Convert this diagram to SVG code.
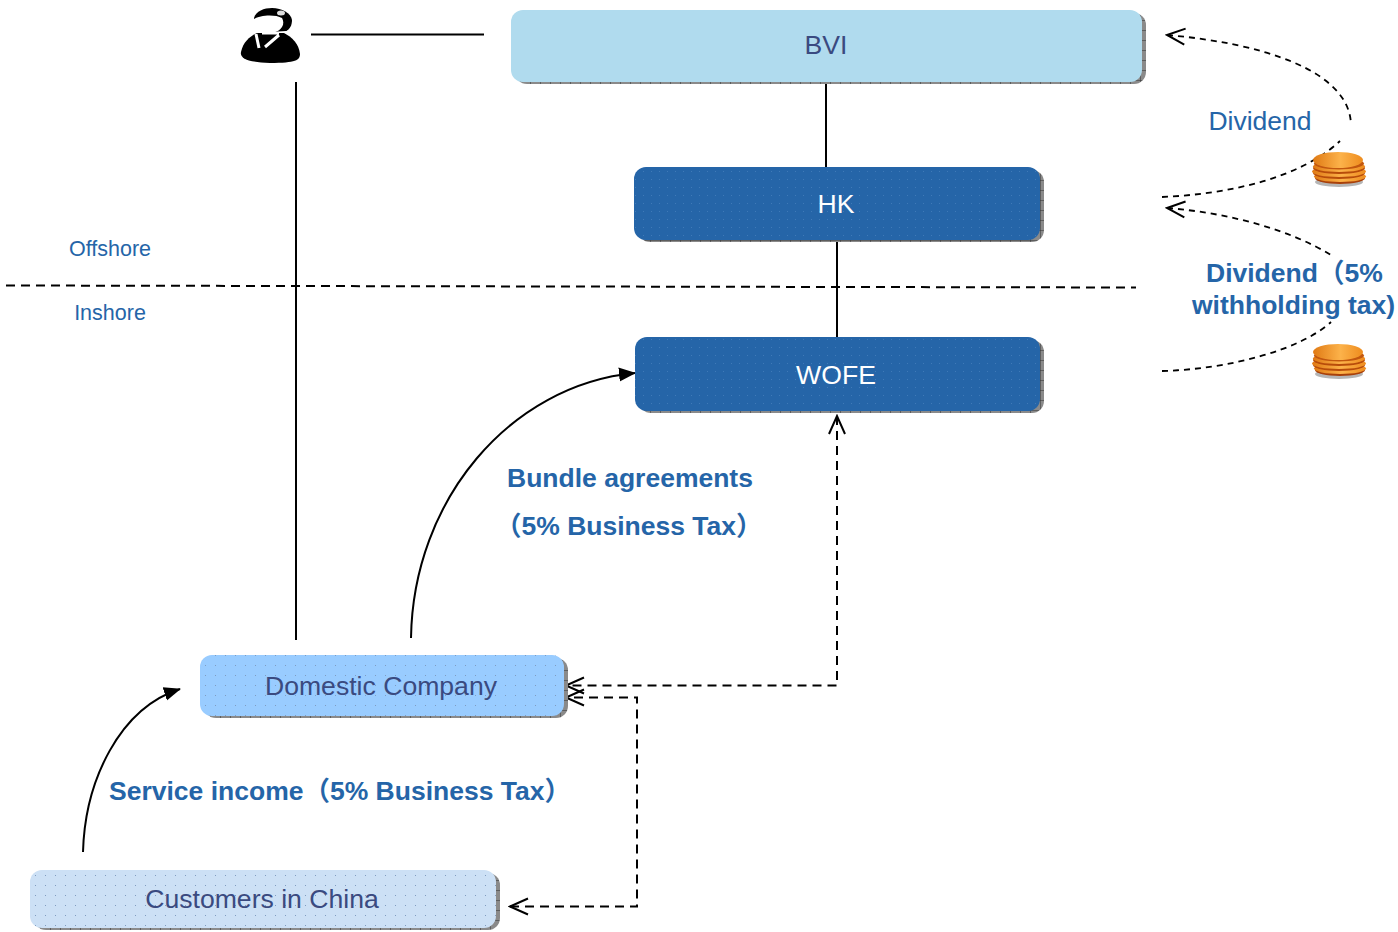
<svg xmlns="http://www.w3.org/2000/svg" width="1398" height="932" viewBox="0 0 1398 932">
<style>
text{font-family:"Liberation Sans",Arial,"Noto Sans CJK SC",sans-serif}
.l{font-size:26.600px;fill:#3a4a80;text-anchor:middle}
.w{font-size:26.600px;fill:#fff;text-anchor:middle}
.b{font-size:26.500px;font-weight:bold;fill:#2565a8}
.r{font-size:26.500px;fill:#2565a8}
.s{font-size:21.500px;fill:#2565a8;text-anchor:middle}
.c{fill:none;stroke:#000;stroke-width:2}
.d{stroke-dasharray:9 6}
.f{stroke-dasharray:6 5;stroke-width:1.800}
.sh{fill:url(#hatch)}
</style>
<defs>
<pattern id="hatch" width="10" height="10" patternUnits="userSpaceOnUse"><rect width="10" height="10" fill="#8a8a8a"/><path d="M0 0H10M0 0V10" stroke="#333" stroke-width="1"/></pattern>
<pattern id="dots" width="10" height="10" patternUnits="userSpaceOnUse"><rect x="5" y="5" width="1" height="1" fill="#7f9cc0"/></pattern>
<pattern id="dotsd" width="8" height="8" patternUnits="userSpaceOnUse"><rect x="3" y="3" width="1" height="1" fill="#3f7ab8"/></pattern>
<marker id="open" markerWidth="22" markerHeight="20" refX="20" refY="9" orient="auto-start-reverse" markerUnits="userSpaceOnUse" viewBox="0 0 22 18"><path d="M2 1L20 9L2 17" fill="none" stroke="#000" stroke-width="2"/></marker>
<marker id="solid" markerWidth="18" markerHeight="16" refX="16" refY="7" orient="auto" markerUnits="userSpaceOnUse" viewBox="0 0 18 14"><path d="M0 0L17 7L0 14Z" fill="#000"/></marker>
<linearGradient id="coin" x1="0" x2="1" y1="0" y2="0"><stop offset="0" stop-color="#e07a14"/><stop offset=".55" stop-color="#fcb24a"/><stop offset="1" stop-color="#ee8c1e"/></linearGradient>
<g id="coins">
<ellipse cx="27" cy="31" rx="24" ry="5" fill="#b5b5b5"/>
<ellipse cx="28" cy="27" rx="25" ry="6" fill="#a8400a"/>
<ellipse cx="28" cy="25.500" rx="26" ry="5.500" fill="url(#coin)"/>
<ellipse cx="27" cy="22" rx="26" ry="6" fill="#b84c0a"/>
<ellipse cx="27" cy="20.500" rx="27" ry="5.500" fill="url(#coin)"/>
<ellipse cx="27" cy="17" rx="26" ry="6" fill="#b84c0a"/>
<ellipse cx="27" cy="15.500" rx="26" ry="5.500" fill="url(#coin)"/>
<ellipse cx="27" cy="12.500" rx="25" ry="6" fill="#c2570f"/>
<ellipse cx="26" cy="9" rx="25" ry="8" fill="url(#coin)"/>
</g>
</defs>
<rect width="1398" height="932" fill="#fff"/>

<g id="connectors">
<path class="c" d="M311 34.500H484"/>
<path class="c" d="M296 82V640"/>
<path class="c" d="M826 83V167"/>
<path class="c" d="M837 241V337"/>
<path class="c d" d="M6 285.500L1136 287.500"/>
<path class="c" d="M411 638C413 500 510 385 635 373" marker-end="url(#solid)"/>
<path class="c" d="M83 852C85 780 120 708 180 689" marker-end="url(#solid)"/>
<path class="c d" d="M837 416V685.500H566" marker-start="url(#open)" marker-end="url(#open)"/>
<path class="c d" d="M510 906.500H637V697.500H566" marker-start="url(#open)" marker-end="url(#open)"/>
<path class="c f" d="M1167 35C1260 43 1350 70 1351 125" marker-start="url(#open)"/>
<path class="c f" d="M1162 197C1230 194 1300 178 1340 141"/>
<path class="c f" d="M1167 208C1230 213 1290 230 1331 255" marker-start="url(#open)"/>
<path class="c f" d="M1162 371C1230 369 1300 350 1331 322"/>
</g>

<g id="person">
<path d="M241 52C243 42 250 36 257 33H284C292 37 299 44 300 54C300 60 296 63 270 63C246 62 240 58 241 52Z" fill="#000"/>
<path d="M256 34L259 48M279 35L265 47M262 33H279" fill="none" stroke="#fff" stroke-width="3"/>
<path d="M254 18C256 11 264 8 272 8C282 8 291 13 292 20C292 25 290 29 286 31L270 32L254 22Z" fill="#000"/>
<path d="M254 19C260 15 275 14 282 18C285 23 283 31 272 33C262 34 252 29 254 19Z" fill="#fff"/>
<ellipse cx="281" cy="13" rx="4" ry="2.500" fill="#ddd"/>
</g>

<g id="bvi">
<rect x="515" y="13" width="631" height="71" rx="12" class="sh"/>
<rect x="511" y="10" width="631" height="72" rx="12" fill="#b0dbee"/>
<text class="l" x="826" y="54">BVI</text>
</g>
<g id="hk">
<rect x="638" y="170" width="406" height="72" rx="12" class="sh"/>
<rect x="634" y="167" width="406" height="73" rx="12" fill="#2565a8"/>
<rect x="634" y="167" width="406" height="73" rx="12" fill="url(#dotsd)"/>
<text class="w" x="836" y="213">HK</text>
</g>
<g id="wofe">
<rect x="639" y="340" width="405" height="73" rx="12" class="sh"/>
<rect x="635" y="337" width="405" height="74" rx="12" fill="#2565a8"/>
<rect x="635" y="337" width="405" height="74" rx="12" fill="url(#dotsd)"/>
<text class="w" x="836" y="384">WOFE</text>
</g>
<g id="domestic">
<rect x="204" y="658" width="364" height="60" rx="12" class="sh"/>
<rect x="200" y="655" width="364" height="61" rx="12" fill="#99ccff"/>
<rect x="200" y="655" width="364" height="61" rx="12" fill="url(#dots)"/>
<text class="l" x="381" y="695">Domestic Company</text>
</g>
<g id="customers">
<rect x="34" y="873" width="466" height="57" rx="12" class="sh"/>
<rect x="30" y="870" width="466" height="58" rx="12" fill="#cce0f5"/>
<rect x="30" y="870" width="466" height="58" rx="12" fill="url(#dots)"/>
<text class="l" x="262" y="908">Customers in China</text>
</g>

<g id="coins1"><use href="#coins" x="1312" y="151"/></g>
<g id="coins2"><use href="#coins" x="1312" y="343"/></g>

<g id="labels">
<text class="s" x="110" y="256">Offshore</text>
<text class="s" x="110" y="320">Inshore</text>
<text class="r" x="1260" y="130" text-anchor="middle">Dividend</text>
<text class="b" x="1206" y="282">Dividend（5%</text>
<text class="b" x="1192" y="314">withholding tax)</text>
<text class="b" x="507" y="487">Bundle agreements</text>
<text class="b" x="495" y="535">（5% Business Tax）</text>
<text class="b" x="109" y="800">Service income（5% Business Tax）</text>
</g>
</svg>
